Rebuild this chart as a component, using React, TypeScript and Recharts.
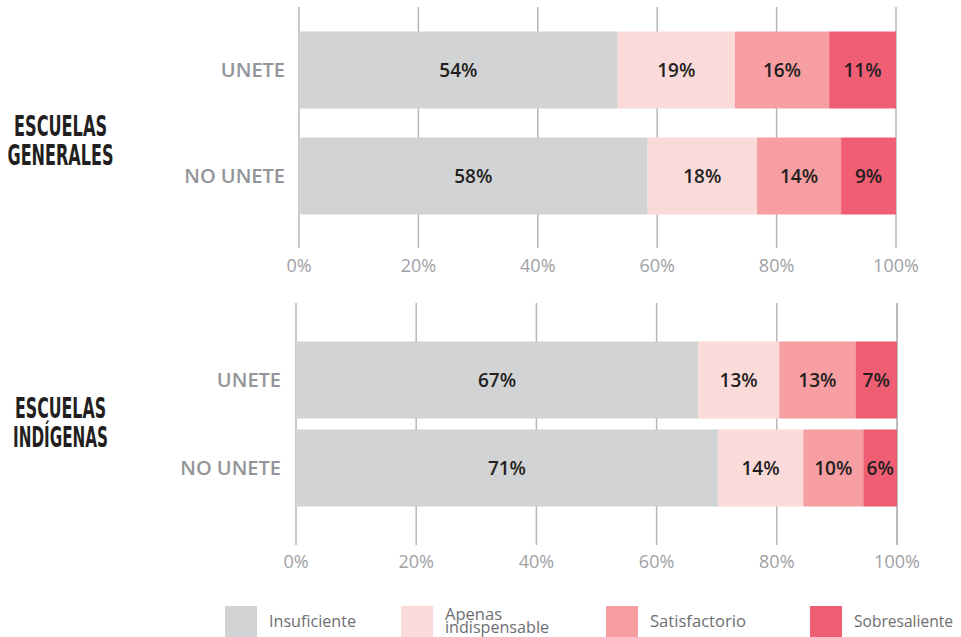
import React from 'react';
import { BarChart, Bar, XAxis, YAxis, CartesianGrid, LabelList } from 'recharts';

const categories = ['UNETE', 'NO UNETE'];
const xTicks = [0, 20, 40, 60, 80, 100];

const seriesKeys = ['insuficiente', 'apenas', 'satisfactorio', 'sobresaliente'];
const seriesNames = [['Insuficiente'], ['Apenas', 'indispensable'], ['Satisfactorio'], ['Sobresaliente']];
const seriesColors = ['#d1d3d4', '#fadbda', '#f69ea1', '#f05e74'];

// Escuelas generales
const genInsuficiente = [53.4, 58.4];
const genApenas = [19.6, 18.3];
const genSatisfactorio = [15.8, 14.1];
const genSobresaliente = [11.2, 9.2];
const genLabels = [
  ['54%', '58%'],
  ['19%', '18%'],
  ['16%', '14%'],
  ['11%', '9%'],
];

// Escuelas indígenas
const indInsuficiente = [66.9, 70.2];
const indApenas = [13.5, 14.2];
const indSatisfactorio = [12.7, 10.0];
const indSobresaliente = [6.9, 5.6];
const indLabels = [
  ['67%', '71%'],
  ['13%', '14%'],
  ['13%', '10%'],
  ['7%', '6%'],
];

const buildRows = (series: number[][], labels: string[][]) =>
  categories.map((name, i) => {
    const row: Record<string, string | number> = { name };
    seriesKeys.forEach((k, s) => {
      row[k] = series[s][i];
      row[k + 'Label'] = labels[s][i];
    });
    return row;
  });

const generalesRows = buildRows(
  [genInsuficiente, genApenas, genSatisfactorio, genSobresaliente],
  genLabels
);
const indigenasRows = buildRows(
  [indInsuficiente, indApenas, indSatisfactorio, indSobresaliente],
  indLabels
);

const sans = '"Open Sans", Roboto, sans-serif';

interface PanelProps {
  rows: Record<string, string | number>[];
  top: number;
  height: number;
  plotLeft: number;
  plotRight: number;
  margin: { top: number; bottom: number };
  pad: { top: number; bottom: number };
  yTickMargin: number;
  xTickMargin: number;
}

const Panel: React.FC<PanelProps> = ({ rows, top, height, plotLeft, plotRight, margin, pad, yTickMargin, xTickMargin }) => (
  <div style={{ position: 'absolute', left: 0, top }}>
    <BarChart
      width={961}
      height={height}
      data={rows}
      layout="vertical"
      margin={{ top: margin.top, bottom: margin.bottom, left: 0, right: 961 - plotRight }}
    >
      <CartesianGrid horizontal={false} stroke="#b5b6b8" strokeWidth={1.5} />
      <XAxis
        type="number"
        domain={[0, 100]}
        ticks={xTicks}
        height={30}
        axisLine={false}
        tickLine={false}
        tickSize={0}
        tickMargin={xTickMargin}
        tickFormatter={(v) => `${v}%`}
        tick={{ fill: '#a0a1a4', fontSize: 18, fontFamily: sans, fontWeight: 500 }}
      />
      <YAxis
        type="category"
        dataKey="name"
        width={plotLeft}
        padding={pad}
        axisLine={false}
        tickLine={false}
        tickSize={0}
        tickMargin={yTickMargin}
        tick={{ fill: '#939598', fontSize: 20, fontFamily: sans, fontWeight: 600 }}
      />
      {seriesKeys.map((k, i) => (
        <Bar key={k} dataKey={k} stackId="a" fill={seriesColors[i]} barSize={77} isAnimationActive={false}>
          <LabelList
            dataKey={k + 'Label'}
            position="center"
            fill="#231f20"
            style={{ fontSize: 19, fontFamily: sans, fontWeight: 600 }}
          />
        </Bar>
      ))}
    </BarChart>
  </div>
);

const groupFont = '"DejaVu Sans Condensed", "Liberation Sans Narrow", sans-serif';

const GroupLabel: React.FC<{ lines: string[]; baselines: number[]; lengths: number[] }> = ({ lines, baselines, lengths }) => (
  <>
    {lines.map((t, i) => (
      <text
        key={t}
        x={60.5}
        y={baselines[i]}
        textAnchor="middle"
        textLength={lengths[i]}
        lengthAdjust="spacingAndGlyphs"
        fontFamily={groupFont}
        fontWeight="bold"
        fontSize={28}
        fill="#231f20"
      >
        {t}
      </text>
    ))}
  </>
);

// legend layout
const legendX = [225, 401, 606, 810];
const legendTextLen = [[87], [57, 104], [96], [99]];
const legendBaselines = [[627], [620, 632.5], [627], [627]];

export default function App() {
  return (
    <div style={{ position: 'absolute', left: 0, top: 0, width: 961, height: 637, background: '#fff', overflow: 'hidden' }}>
      <Panel
        rows={generalesRows}
        top={0}
        height={290}
        plotLeft={299}
        plotRight={896}
        margin={{ top: 7, bottom: 12 }}
        pad={{ top: 9.5, bottom: 19.5 }}
        yTickMargin={14}
        xTickMargin={11}
      />
      <Panel
        rows={indigenasRows}
        top={290}
        height={300}
        plotLeft={296}
        plotRight={897}
        margin={{ top: 13, bottom: 15 }}
        pad={{ top: 32.5, bottom: 33.5 }}
        yTickMargin={15}
        xTickMargin={10}
      />
      <svg width={961} height={637} style={{ position: 'absolute', left: 0, top: 0 }}>
        <GroupLabel lines={['ESCUELAS', 'GENERALES']} baselines={[136, 165]} lengths={[93, 106]} />
        <GroupLabel lines={['ESCUELAS', 'INDÍGENAS']} baselines={[418, 447]} lengths={[91, 95]} />
        {seriesNames.map((lines, i) => (
          <g key={lines[0]}>
            <rect x={legendX[i]} y={606} width={32} height={32} fill={seriesColors[i]} />
            {lines.map((t, j) => (
              <text
                key={t}
                x={legendX[i] + 44}
                y={legendBaselines[i][j]}
                textLength={legendTextLen[i][j]}
                lengthAdjust="spacingAndGlyphs"
                fontFamily={sans}
                fontWeight={500}
                fontSize={16}
                fill="#6d6e71"
              >
                {t}
              </text>
            ))}
          </g>
        ))}
      </svg>
    </div>
  );
}
